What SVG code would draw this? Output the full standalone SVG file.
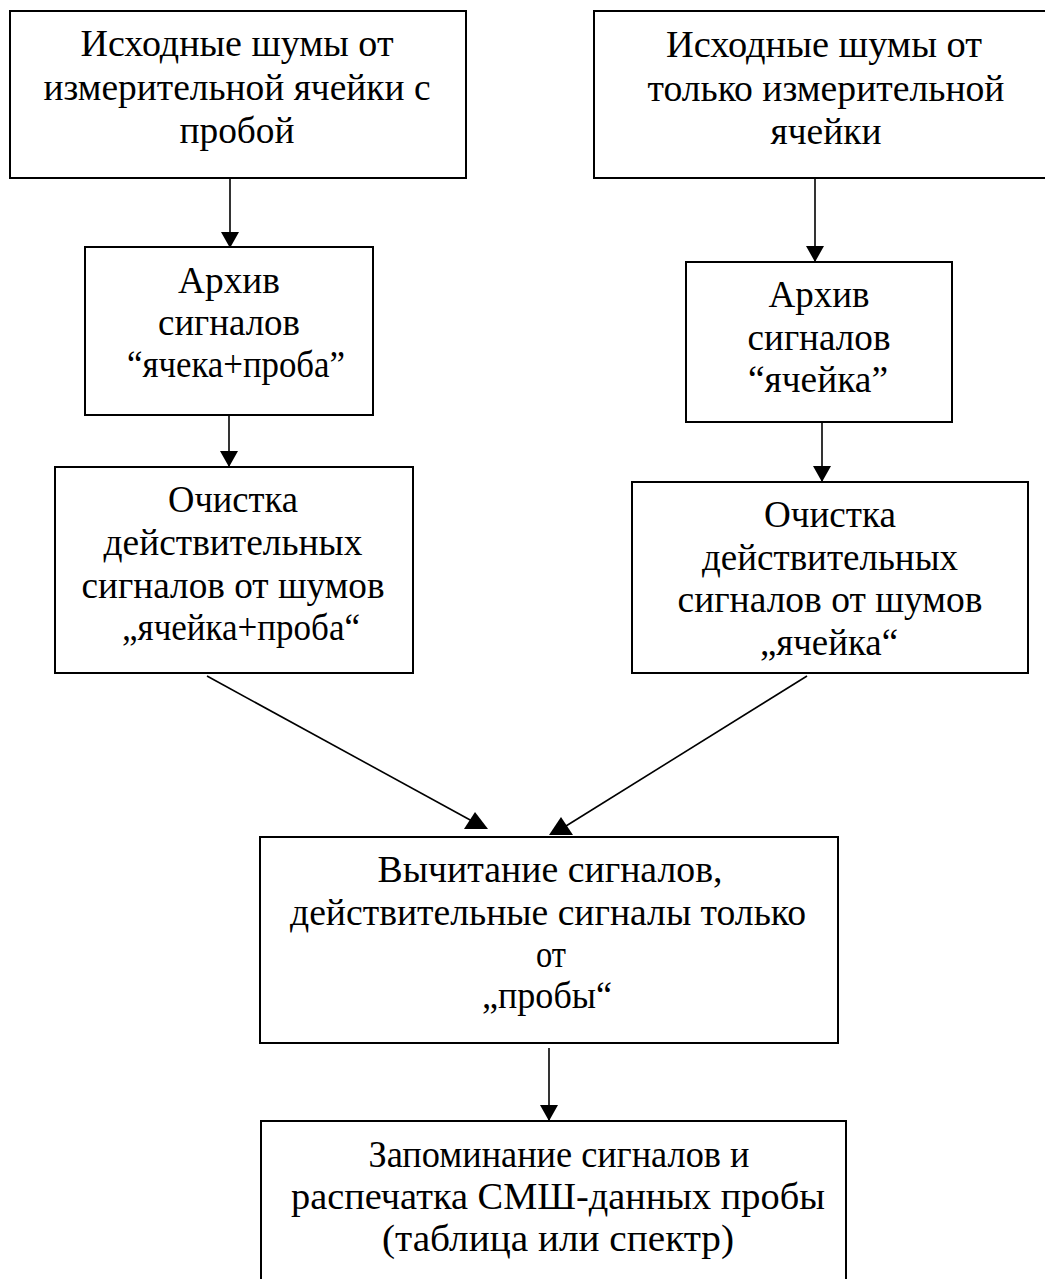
<svg xmlns="http://www.w3.org/2000/svg" width="1045" height="1279" viewBox="0 0 1045 1279">
<style>
  .box { fill: #fff; stroke: #000; stroke-width: 2; }
  .t { font-family: "Liberation Serif", "Times New Roman", serif; font-size: 37px; fill: #000; text-anchor: middle; }
  .ln { stroke: #000; stroke-width: 1.6; fill: none; }
  .ah { fill: #000; }
</style>
<defs>
  <marker id="arr" markerUnits="userSpaceOnUse" markerWidth="18" markerHeight="18" refX="16" refY="9" orient="auto" viewBox="0 0 18 18">
    <path d="M0,0 L16,9 L0,18 Z" fill="#000"/>
  </marker>
</defs>
<rect x="0" y="0" width="1045" height="1279" fill="#fff"/>

<g id="connectors">
  <line class="ln" x1="230" y1="178" x2="230" y2="248" marker-end="url(#arr)"/>
  <line class="ln" x1="815" y1="178" x2="815" y2="262" marker-end="url(#arr)"/>
  <line class="ln" x1="229" y1="415" x2="229" y2="467" marker-end="url(#arr)"/>
  <line class="ln" x1="822" y1="422" x2="822" y2="482" marker-end="url(#arr)"/>
  <line class="ln" x1="207" y1="676" x2="472" y2="821"/>
  <polygon class="ah" points="475,812 464,829 488,829"/>
  <line class="ln" x1="807" y1="676" x2="566" y2="826"/>
  <polygon class="ah" points="561,817 549,835 573,835"/>
  <line class="ln" x1="549" y1="1048" x2="549" y2="1121" marker-end="url(#arr)"/>
</g>

<g id="n1">
  <rect class="box" x="10" y="11" width="456" height="167"/>
  <text class="t" x="237" y="56" textLength="313" lengthAdjust="spacingAndGlyphs">Исходные шумы от</text>
  <text class="t" x="237" y="100" textLength="387" lengthAdjust="spacingAndGlyphs">измерительной ячейки с</text>
  <text class="t" x="237" y="143" textLength="115" lengthAdjust="spacingAndGlyphs">пробой</text>
</g>
<g id="n2">
  <rect class="box" x="594" y="11" width="470" height="167"/>
  <text class="t" x="824" y="57" textLength="316" lengthAdjust="spacingAndGlyphs">Исходные шумы от</text>
  <text class="t" x="826" y="101" textLength="357" lengthAdjust="spacingAndGlyphs">только измерительной</text>
  <text class="t" x="826" y="144" textLength="111" lengthAdjust="spacingAndGlyphs">ячейки</text>
</g>
<g id="n3">
  <rect class="box" x="85" y="247" width="288" height="168"/>
  <text class="t" x="229" y="293" textLength="102" lengthAdjust="spacingAndGlyphs">Архив</text>
  <text class="t" x="229" y="335" textLength="142" lengthAdjust="spacingAndGlyphs">сигналов</text>
  <text class="t" x="236" y="377" textLength="218" lengthAdjust="spacingAndGlyphs">“ячека+проба”</text>
</g>
<g id="n4">
  <rect class="box" x="686" y="262" width="266" height="160"/>
  <text class="t" x="819" y="307" textLength="101" lengthAdjust="spacingAndGlyphs">Архив</text>
  <text class="t" x="819" y="350" textLength="143" lengthAdjust="spacingAndGlyphs">сигналов</text>
  <text class="t" x="818" y="392" textLength="140" lengthAdjust="spacingAndGlyphs">“ячейка”</text>
</g>
<g id="n5">
  <rect class="box" x="55" y="467" width="358" height="206"/>
  <text class="t" x="233" y="512" textLength="130" lengthAdjust="spacingAndGlyphs">Очистка</text>
  <text class="t" x="233" y="555" textLength="259" lengthAdjust="spacingAndGlyphs">действительных</text>
  <text class="t" x="233" y="598" textLength="303" lengthAdjust="spacingAndGlyphs">сигналов от шумов</text>
  <text class="t" x="241" y="640" textLength="238" lengthAdjust="spacingAndGlyphs">„ячейка+проба“</text>
</g>
<g id="n6">
  <rect class="box" x="632" y="482" width="396" height="191"/>
  <text class="t" x="830" y="527" textLength="132" lengthAdjust="spacingAndGlyphs">Очистка</text>
  <text class="t" x="830" y="570" textLength="256" lengthAdjust="spacingAndGlyphs">действительных</text>
  <text class="t" x="830" y="612" textLength="305" lengthAdjust="spacingAndGlyphs">сигналов от шумов</text>
  <text class="t" x="829" y="655" textLength="138" lengthAdjust="spacingAndGlyphs">„ячейка“</text>
</g>
<g id="n7">
  <rect class="box" x="260" y="837" width="578" height="206"/>
  <text class="t" x="550" y="882" textLength="345" lengthAdjust="spacingAndGlyphs">Вычитание сигналов,</text>
  <text class="t" x="548" y="925" textLength="516" lengthAdjust="spacingAndGlyphs">действительные сигналы только</text>
  <text class="t" x="551" y="967" textLength="30" lengthAdjust="spacingAndGlyphs">от</text>
  <text class="t" x="547" y="1008" textLength="130" lengthAdjust="spacingAndGlyphs">„пробы“</text>
</g>
<g id="n8">
  <rect class="box" x="261" y="1121" width="585" height="200"/>
  <text class="t" x="559" y="1167" textLength="381" lengthAdjust="spacingAndGlyphs">Запоминание сигналов и</text>
  <text class="t" x="558" y="1209" textLength="534" lengthAdjust="spacingAndGlyphs">распечатка СМШ-данных пробы</text>
  <text class="t" x="558" y="1251" textLength="352" lengthAdjust="spacingAndGlyphs">(таблица или спектр)</text>
</g>
</svg>
